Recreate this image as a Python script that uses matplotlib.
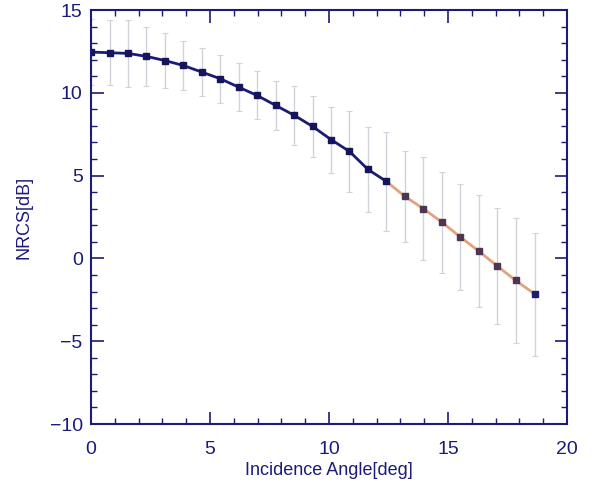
import matplotlib
matplotlib.use("Agg")
import matplotlib.pyplot as plt
from matplotlib.ticker import MultipleLocator

plt.rcParams["font.family"] = ["Liberation Sans", "DejaVu Sans"]

angle = [0.0, 0.78, 1.55, 2.33, 3.1, 3.88, 4.66, 5.43, 6.21, 6.98, 7.76, 8.54,
         9.31, 10.09, 10.86, 11.64, 12.41, 13.19, 13.97, 14.74, 15.52, 16.29,
         17.07, 17.84, 18.66]
nrcs = [12.46, 12.42, 12.38, 12.2, 11.95, 11.65, 11.25, 10.85, 10.34, 9.84,
        9.24, 8.64, 7.97, 7.17, 6.46, 5.37, 4.65, 3.74, 3.0, 2.19, 1.29, 0.44,
        -0.46, -1.33, -2.17]
err = [2.0, 1.96, 2.0, 1.8, 1.66, 1.5, 1.45, 1.45, 1.45, 1.45, 1.5, 1.8, 1.85,
       2.0, 2.46, 2.56, 2.97, 2.77, 3.1, 3.05, 3.2, 3.4, 3.5, 3.78, 3.7]
split = 16  # index where the model (orange) segment starts

navy = "#1b1b78"
fig = plt.figure(figsize=(5.92, 4.88), dpi=100)
ax = fig.add_axes([0.1537, 0.1311, 0.8041, 0.8484])

ax.errorbar(angle, nrcs, yerr=err, fmt="none", ecolor="#d2d2da", elinewidth=1.0,
            capsize=2, capthick=0.8, zorder=1)
ax.plot(angle[:split + 1], nrcs[:split + 1], color=navy, lw=2.0, zorder=2)
ax.plot(angle[split:], nrcs[split:], color="#e3a27e", lw=2.0, zorder=2)
ax.plot(angle[:split + 1], nrcs[:split + 1], ls="none", marker="s", ms=5,
        color="#15155e", zorder=3)
ax.plot(angle[split + 1:-1], nrcs[split + 1:-1], ls="none", marker="s", ms=5,
        color="#4e3550", zorder=3)
ax.plot(angle[-1:], nrcs[-1:], ls="none", marker="s", ms=5, color="#1c1c70", zorder=3)

ax.set_xlim(0, 20)
ax.set_ylim(-10, 15)
ax.xaxis.set_major_locator(MultipleLocator(5))
ax.xaxis.set_minor_locator(MultipleLocator(1))
ax.yaxis.set_major_locator(MultipleLocator(5))
ax.yaxis.set_minor_locator(MultipleLocator(1))
ax.tick_params(which="both", direction="in", top=True, right=True, color=navy,
               labelcolor=navy, labelsize=14, pad=6)
ax.tick_params(axis="x", which="both", pad=12)
ax.tick_params(which="major", length=9, width=1.2)
ax.tick_params(which="minor", length=4, width=1.0)
for s in ax.spines.values():
    s.set_color(navy)
    s.set_linewidth(1.5)

ax.set_xlabel("Incidence Angle[deg]", color=navy, fontsize=13, labelpad=3)
ax.set_ylabel("NRCS[dB]", color=navy, fontsize=13, labelpad=12)

fig.savefig("out.png", dpi=100)
